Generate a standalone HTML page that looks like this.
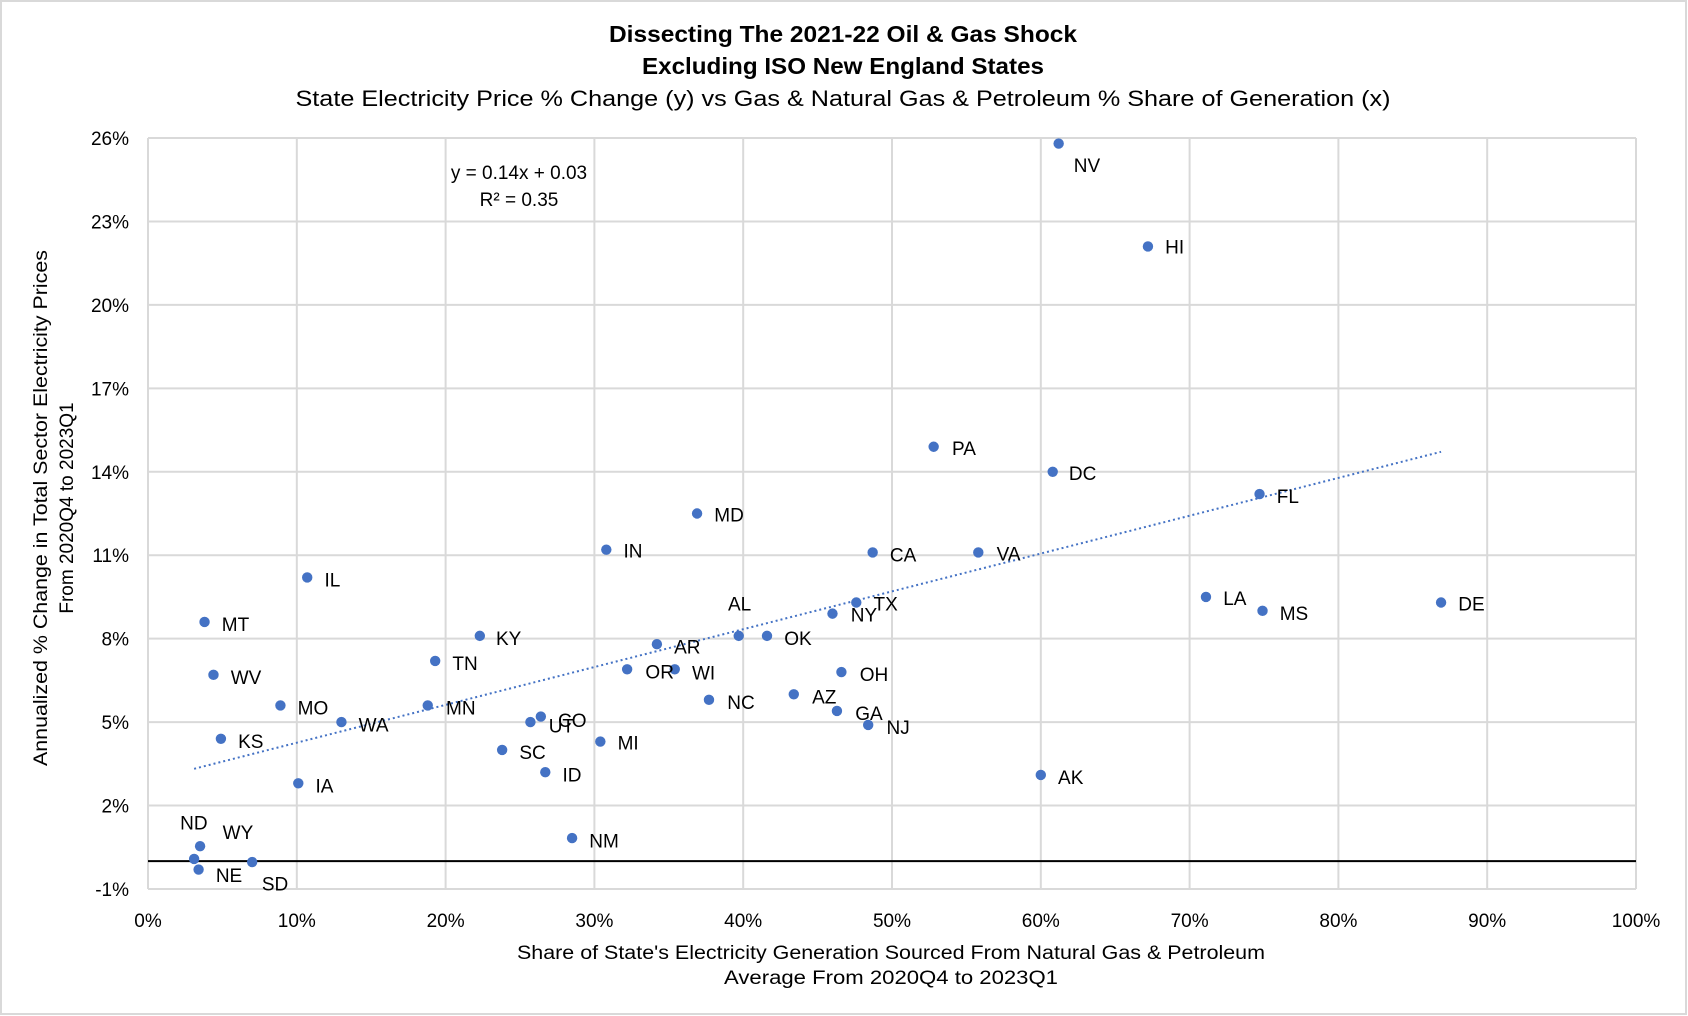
<!DOCTYPE html>
<html><head><meta charset="utf-8"><style>
html,body{margin:0;padding:0;background:#fff}
svg{display:block;font-family:"Liberation Sans",sans-serif}
</style></head><body>
<svg id="chart" width="1688" height="1016" viewBox="0 0 1688 1016">
<rect x="1" y="1" width="1685" height="1013" fill="#fff" stroke="#d9d9d9" stroke-width="2"/>
<g id="grid"></g>
<g id="ticks"></g>
<g id="trend"></g>
<g id="pts"></g>
<g id="labels"></g>
<text x="843" y="42" text-anchor="middle" font-size="23" font-weight="bold" fill="#000" textLength="468" lengthAdjust="spacingAndGlyphs">Dissecting The 2021-22 Oil &amp; Gas Shock</text>
<text x="843" y="74" text-anchor="middle" font-size="23" font-weight="bold" fill="#000" textLength="402" lengthAdjust="spacingAndGlyphs">Excluding ISO New England States</text>
<text x="843" y="106" text-anchor="middle" font-size="22" fill="#000" textLength="1095" lengthAdjust="spacingAndGlyphs">State Electricity Price % Change (y) vs Gas &amp; Natural Gas &amp; Petroleum % Share of Generation (x)</text>
<text x="519" y="179" text-anchor="middle" font-size="19" fill="#000">y = 0.14x + 0.03</text>
<text x="519" y="206" text-anchor="middle" font-size="19" fill="#000">R² = 0.35</text>
<text x="891" y="959" text-anchor="middle" font-size="19" fill="#000" textLength="748" lengthAdjust="spacingAndGlyphs">Share of State's Electricity Generation Sourced From Natural Gas &amp; Petroleum</text>
<text x="891" y="984" text-anchor="middle" font-size="19" fill="#000" textLength="334" lengthAdjust="spacingAndGlyphs">Average From 2020Q4 to 2023Q1</text>
<text transform="translate(47,508) rotate(-90)" text-anchor="middle" font-size="19" fill="#000" textLength="516" lengthAdjust="spacingAndGlyphs">Annualized % Change in Total Sector Electricity Prices</text>
<text transform="translate(73,508) rotate(-90)" text-anchor="middle" font-size="19" fill="#000">From 2020Q4 to 2023Q1</text>
</svg>
<script>
const states=["NV","HI","PA","DC","FL","MD","IN","CA","VA","IL","LA","DE","TX","MS","NY","MT","KY","AL","OK","AR","TN","OR","WI","WV","OH","AZ","NC","MO","MN","GA","CO","WA","UT","NJ","KS","MI","SC","AK","ID","IA","NM","WY","ND","SD","NE"];
const xShare=[61.2,67.2,52.8,60.8,74.7,36.9,30.8,48.7,55.8,10.7,71.1,86.9,47.6,74.9,46.0,3.8,22.3,39.7,41.6,34.2,19.3,32.2,35.4,4.4,46.6,43.4,37.7,8.9,18.8,46.3,26.4,13.0,25.7,48.4,4.9,30.4,23.8,60.0,26.7,10.1,28.5,3.5,3.1,7.0,3.4];
const yChange=[25.8,22.1,14.9,14.0,13.2,12.5,11.2,11.1,11.1,10.2,9.5,9.3,9.3,9.0,8.9,8.6,8.1,8.1,8.1,7.8,7.2,6.9,6.9,6.7,6.8,6.0,5.8,5.6,5.6,5.4,5.2,5.0,5.0,4.9,4.4,4.3,4.0,3.1,3.2,2.8,0.83,0.54,0.08,-0.03,-0.3];
const xTicks=[0,10,20,30,40,50,60,70,80,90,100];
const yTicks=[-1,2,5,8,11,14,17,20,23,26];
const trendSlope=0.136, trendIntercept=2.9, trendRange=[3.1,86.9];
// label offsets (px) relative to each point
const labelDx=[14,16,17,15,16,16,16,16,17,16,16,16,16,16,17,16,15,-10,16,16,16,17,16,16,17,17,17,16,17,17,16,16,17,17,16,16,16,16,16,16,16,21,-13,9,16];
const labelDy=[20,0,1,1,2,1,1,2,1,2,1,1,1,2,1,2,2,-30,2,2,2,2,3,2,2,2,2,2,2,2,3,2,3,2,2,1,2,2,2,2,2,-13,-34,20,5];

const L=148,R=1636,T=138,B=889,S=1688/1568;
const xs=v=>L+(v-0)/100*(R-L);
const ys=v=>B-(v-(-1))/27*(B-T);
const NS="http://www.w3.org/2000/svg";
function mk(tag,attrs,parent){const e=document.createElementNS(NS,tag);for(const k in attrs)e.setAttribute(k,attrs[k]);parent.appendChild(e);return e;}
const grid=document.getElementById('grid'),ticks=document.getElementById('ticks');
xTicks.forEach(t=>{
  const l=mk('line',{x1:xs(t),x2:xs(t),y1:T,y2:B,stroke:'#d9d9d9','stroke-width':2},grid);
  
  
  const tx=mk('text',{x:xs(t),y:927,'text-anchor':'middle','font-size':19},ticks);
  tx.textContent=t+'%';
  
  
});
yTicks.forEach(t=>{
  const l=mk('line',{x1:L,x2:R,y1:ys(t),y2:ys(t),stroke:'#d9d9d9','stroke-width':2},grid);
  
  
  const tx=mk('text',{x:129,y:ys(t)+7,'text-anchor':'end','font-size':19},ticks);
  tx.textContent=t+'%';
  
  
});
const zl=mk('line',{x1:L,x2:R,y1:ys(0),y2:ys(0),stroke:'#000','stroke-width':2},grid);


const tr=document.getElementById('trend');
const tl=mk('line',{x1:xs(trendRange[0]),y1:ys(trendIntercept+trendSlope*trendRange[0]),x2:xs(trendRange[1]),y2:ys(trendIntercept+trendSlope*trendRange[1]),stroke:'#4472C4','stroke-width':2,'stroke-dasharray':'2 3'},tr);


const pts=document.getElementById('pts'),lbs=document.getElementById('labels');
states.forEach((s,i)=>{
  const cx=xs(xShare[i]),cy=ys(yChange[i]);
  const c=mk('circle',{cx:cx,cy:cy,r:5.2,fill:'#4472C4'},pts);
  
  
  const t=mk('text',{x:cx+labelDx[i]*S,y:cy+labelDy[i]*S+7,'font-size':19,fill:'#000'},lbs);
  t.textContent=s;
  
  
});
</script>
</body></html>
